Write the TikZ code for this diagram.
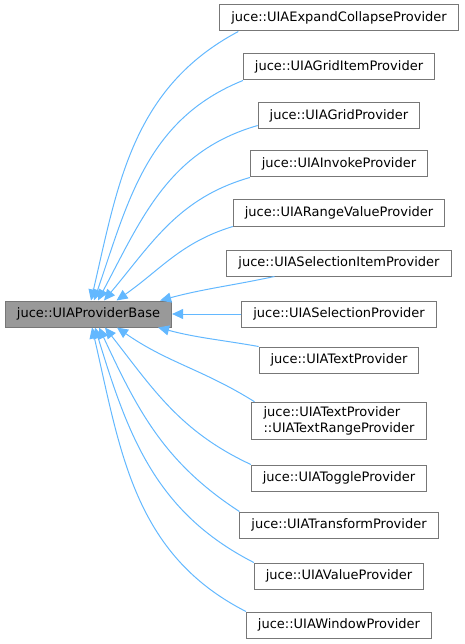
\documentclass[tikz,border=0pt]{standalone}
\usepackage{fontspec}
\setmainfont{DejaVu Sans}
\usetikzlibrary{arrows.meta}

\definecolor{edgeblue}{HTML}{63B8FF}
\definecolor{boxgrey}{HTML}{777777}
\definecolor{basegrey}{HTML}{999999}

\begin{document}
\begin{tikzpicture}[x=1pt,y=1pt,
        cls/.style={draw=boxgrey,line width=1pt,fill=white,inner xsep=11.5pt,inner ysep=4.5pt,
                minimum height=26pt,font=\fontsize{13}{16}\selectfont,align=left},
        inherit/.style={draw=edgeblue,line width=1pt,->},
        >={Triangle[length=11pt,width=10pt]}]
        \useasboundingbox (0,0) rectangle (464,-644);

        \node[cls,fill=basegrey] (Base) at (88.5,-314) {juce::UIAProviderBase};

        \node[cls] (ExpandCollapse) at (339,-18) {juce::UIAExpandCollapseProvider};
        \node[cls] (GridItem) at (339,-67) {juce::UIAGridItemProvider};
        \node[cls] (Grid) at (339,-116) {juce::UIAGridProvider};
        \node[cls] (Invoke) at (339,-164) {juce::UIAInvokeProvider};
        \node[cls] (RangeValue) at (339,-213) {juce::UIARangeValueProvider};
        \node[cls] (SelectionItem) at (339,-263) {juce::UIASelectionItemProvider};
        \node[cls] (Selection) at (339,-314) {juce::UIASelectionProvider};
        \node[cls] (Text) at (339,-360) {juce::UIATextProvider};
        \node[cls] (TextRange) at (339,-421) {juce::UIATextProvider\\::UIATextRangeProvider};
        \node[cls] (Toggle) at (339,-478) {juce::UIAToggleProvider};
        \node[cls] (Transform) at (339,-525) {juce::UIATransformProvider};
        \node[cls] (Value) at (339,-576) {juce::UIAValueProvider};
        \node[cls] (Window) at (339,-625) {juce::UIAWindowProvider};

        % upper children come in from above
        \draw[inherit] ([xshift=19pt]ExpandCollapse.south west) to[out=208,in=77] ([xshift=2.5pt]Base.north);
        \draw[inherit] (GridItem.south west) to[out=202,in=71] ([xshift=5.5pt]Base.north);
        \draw[inherit] ([yshift=4pt]Grid.south west) to[out=196,in=62] ([xshift=9.5pt]Base.north);
        \draw[inherit] (Invoke.south west) to[out=196,in=50] ([xshift=15.5pt]Base.north);
        \draw[inherit] (RangeValue.south west) to[out=197,in=35] ([xshift=28pt]Base.north);
        \draw[inherit] ([xshift=48pt]SelectionItem.south west) to[out=192,in=15] ([xshift=-12pt]Base.north east);
        \draw[inherit] (Selection) to (Base);
        \draw[inherit] (Text.north west) to[out=170,in=-15] ([xshift=-14pt]Base.south east);
        % lower children come in from below
        \draw[inherit] ([xshift=3pt]TextRange.north west) to[out=148,in=-35] ([xshift=28.5pt]Base.south);
        \draw[inherit] (Toggle.north west) to[out=155,in=-52] ([xshift=16.5pt]Base.south);
        \draw[inherit] (Transform.north west) to[out=147,in=-65] ([xshift=10.5pt]Base.south);
        \draw[inherit] (Value.north west) to[out=153,in=-73] ([xshift=6.5pt]Base.south);
        \draw[inherit] (Window.north west) to[out=153,in=-77] ([xshift=3.5pt]Base.south);
\end{tikzpicture}
\end{document}
